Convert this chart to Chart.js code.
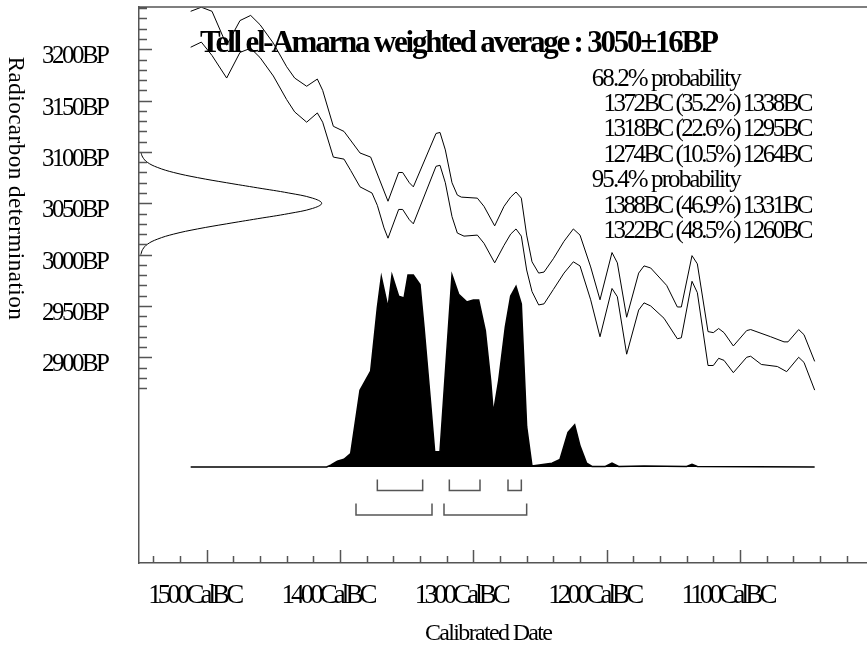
<!DOCTYPE html>
<html>
<head>
<meta charset="utf-8">
<title>Tell el-Amarna weighted average</title>
<script src="https://cdn.jsdelivr.net/npm/chart.js@4.4.0/dist/chart.umd.min.js"></script>
<style>
  html, body { margin: 0; padding: 0; background: #fff; }
  #wrap { width: 867px; height: 646px; }
</style>
</head>
<body>
<div id="wrap"><canvas id="chartCanvas" width="867" height="646"></canvas></div>
<script>
// calibration curve envelope (years are cal BC, values in BP)
const upperYears = [1512, 1504, 1496, 1485, 1475, 1467, 1460, 1450, 1440, 1434, 1425, 1417, 1413, 1405, 1397, 1385, 1377, 1364, 1356, 1353, 1348, 1345, 1328, 1325, 1321, 1316, 1312, 1309, 1297, 1292, 1284, 1277, 1272, 1268, 1264, 1260, 1256, 1251, 1247, 1240, 1232, 1225, 1220, 1212, 1205, 1196, 1192, 1185, 1176, 1172, 1167, 1155, 1147, 1144, 1136, 1132, 1124, 1120, 1116, 1112, 1105, 1095, 1092, 1077, 1067, 1064, 1056, 1052, 1044];
const upperBP = [3237, 3241, 3237, 3204, 3228, 3233, 3224, 3206, 3183, 3172, 3164, 3171, 3160, 3125, 3120, 3099, 3095, 3052, 3080, 3080, 3070, 3066, 3118, 3119, 3102, 3070, 3058, 3056, 3055, 3047, 3028, 3047, 3056, 3061, 3055, 3019, 2993, 2982, 2983, 2996, 3013, 3025, 3019, 2988, 2956, 3002, 2992, 2939, 2982, 2989, 2987, 2970, 2949, 2949, 2999, 2991, 2925, 2924, 2928, 2924, 2911, 2926, 2927, 2920, 2915, 2915, 2927, 2922, 2896];

const lowerYears = [1512, 1504, 1496, 1485, 1475, 1467, 1460, 1450, 1440, 1434, 1425, 1417, 1413, 1405, 1397, 1392, 1385, 1376, 1372, 1367, 1364, 1356, 1353, 1348, 1345, 1328, 1325, 1321, 1316, 1312, 1307, 1297, 1292, 1284, 1277, 1272, 1268, 1264, 1260, 1256, 1251, 1247, 1240, 1232, 1225, 1220, 1212, 1205, 1196, 1192, 1185, 1176, 1172, 1167, 1157, 1147, 1144, 1136, 1132, 1124, 1120, 1116, 1112, 1105, 1095, 1092, 1084, 1072, 1065, 1056, 1052, 1044];
const lowerBP = [3202, 3207, 3194, 3172, 3197, 3201, 3192, 3174, 3151, 3139, 3129, 3138, 3129, 3095, 3093, 3082, 3066, 3060, 3048, 3026, 3016, 3044, 3044, 3034, 3030, 3086, 3087, 3070, 3037, 3021, 3018, 3019, 3011, 2992, 3009, 3020, 3025, 3018, 2985, 2964, 2951, 2952, 2966, 2982, 2993, 2989, 2956, 2920, 2967, 2959, 2903, 2946, 2953, 2950, 2938, 2918, 2919, 2974, 2963, 2892, 2892, 2899, 2897, 2885, 2900, 2901, 2893, 2891, 2886, 2900, 2895, 2868];

// calibrated date probability (highest point = 1)
const probYears = [1512, 1410, 1407, 1402, 1397, 1392, 1385, 1377, 1372, 1369, 1364, 1361, 1356, 1352, 1349, 1345, 1340, 1337, 1332, 1329, 1325, 1321, 1316, 1311, 1305, 1300, 1296, 1291, 1287, 1285, 1281, 1276, 1272, 1268, 1264, 1260, 1256, 1241, 1235, 1229, 1224, 1220, 1215, 1211, 1201, 1196, 1191, 1172, 1140, 1136, 1132, 1044];
const probValues = [0, 0, 0.01, 0.03, 0.04, 0.07, 0.40, 0.50, 0.83, 0.99, 0.83, 1.0, 0.89, 0.88, 1.0, 1.0, 0.95, 0.73, 0.33, 0.08, 0.08, 0.49, 1.0, 0.9, 0.86, 0.87, 0.87, 0.71, 0.45, 0.28, 0.45, 0.73, 0.89, 0.94, 0.85, 0.21, 0.005, 0.02, 0.04, 0.18, 0.22, 0.11, 0.02, 0.003, 0.003, 0.02, 0.003, 0.005, 0.003, 0.014, 0.003, 0];

// radiocarbon measurement 3050±16BP drawn on the BP axis
const gaussBP = [3100, 3095, 3090, 3085, 3080, 3075, 3070, 3065, 3060, 3055, 3050, 3045, 3040, 3035, 3030, 3025, 3020, 3015, 3010, 3005, 3000];
const gaussDensity = [0.01, 0.02, 0.045, 0.1, 0.19, 0.32, 0.48, 0.65, 0.82, 0.95, 1.0, 0.95, 0.82, 0.65, 0.48, 0.32, 0.19, 0.1, 0.045, 0.02, 0.01];

// highest probability ranges
const range68From = [1372, 1318, 1274];
const range68To = [1338, 1295, 1264];
const range68Pct = ['35.2', '22.6', '10.5'];
const range95From = [1388, 1322];
const range95To = [1331, 1260];
const range95Pct = ['46.9', '48.5'];

// axis ticks
const xTickYears = [1500, 1400, 1300, 1200, 1100];
const yTickBP = [2900, 2950, 3000, 3050, 3100, 3150, 3200];

const titleText = 'Tell el-Amarna weighted average : 3050\u00b116BP';

const axisColor = '#555';
const serif = '"Liberation Serif", "Times New Roman", serif';
const hasSpacing = 'letterSpacing' in CanvasRenderingContext2D.prototype;

// draws text squeezed to a given ink width (OxCal prints very tight text)
function fitText(ctx, text, x, y, width, font, align) {
  ctx.font = font;
  ctx.textAlign = 'left';
  ctx.textBaseline = 'alphabetic';
  if (hasSpacing) ctx.letterSpacing = '0px';
  let natural = ctx.measureText(text).width;
  let start = x;
  if (align === 'right') start = x - width;
  if (align === 'center') start = x - width / 2;
  if (hasSpacing && text.length > 1) {
    ctx.letterSpacing = ((width - natural) / (text.length - 1)) + 'px';
    ctx.fillText(text, start, y);
    ctx.letterSpacing = '0px';
  } else {
    ctx.save();
    ctx.translate(start, y);
    ctx.scale(width / natural, 1);
    ctx.fillText(text, 0, 0);
    ctx.restore();
  }
}

function bracketPoints(from, to, tip, base) {
  let pts = [];
  from.forEach((f, i) => {
    pts.push({x: -f, y: tip}, {x: -f, y: base}, {x: -to[i], y: base}, {x: -to[i], y: tip}, {x: -to[i], y: null});
  });
  return pts;
}

const oxcalDecor = {
  id: 'oxcalDecor',
  afterDraw(chart) {
    const ctx = chart.ctx;
    const area = chart.chartArea;
    const xs = chart.scales.x;
    const ys = chart.scales.y;
    ctx.save();

    // frame top line and inward tick marks
    ctx.strokeStyle = axisColor;
    ctx.lineWidth = 1.5;
    ctx.beginPath();
    ctx.moveTo(area.left, area.top);
    ctx.lineTo(area.right, area.top);
    for (let yr = 1540; yr >= 1020; yr -= 20) {
      let px = Math.round(xs.getPixelForValue(-yr)) + 0.5;
      let len = yr % 100 === 0 ? 13 : 7;
      ctx.moveTo(px, area.bottom);
      ctx.lineTo(px, area.bottom - len);
    }
    for (let bp = 2870; bp <= 3240; bp += 10) {
      let py = Math.round(ys.getPixelForValue(bp)) + 0.5;
      let len = bp % 50 === 0 ? 13 : 8;
      ctx.moveTo(area.left, py);
      ctx.lineTo(area.left + len, py);
    }
    ctx.stroke();

    ctx.fillStyle = '#000';
    // tick labels
    xTickYears.forEach(yr => {
      let px = xs.getPixelForValue(-yr);
      fitText(ctx, yr + 'CalBC', px - 10.5, area.bottom + 39.7, 96, '27px ' + serif, 'center');
    });
    yTickBP.forEach(bp => {
      let py = ys.getPixelForValue(bp);
      fitText(ctx, bp + 'BP', 110, py + 14, 68, '25px ' + serif, 'right');
    });

    // axis titles
    fitText(ctx, 'Calibrated Date', 425, 640, 128, '24px ' + serif, 'left');
    ctx.save();
    ctx.translate(8.5, 56.7);
    ctx.rotate(Math.PI / 2);
    fitText(ctx, 'Radiocarbon determination', 0, 0, 263, '23px ' + serif, 'left');
    ctx.restore();

    // title and probability ranges
    fitText(ctx, titleText, 200, 52, 519, 'bold 31px ' + serif, 'left');
    let lineY = 85.5;
    const step = 25.4;
    const rangeFont = '25px ' + serif;
    fitText(ctx, '68.2% probability', 591.7, lineY, 150, rangeFont, 'left');
    range68From.forEach((f, i) => {
      lineY += step;
      fitText(ctx, f + 'BC (' + range68Pct[i] + '%) ' + range68To[i] + 'BC', 603.5, lineY, 210, rangeFont, 'left');
    });
    lineY += step;
    fitText(ctx, '95.4% probability', 591.7, lineY, 150, rangeFont, 'left');
    range95From.forEach((f, i) => {
      lineY += step;
      fitText(ctx, f + 'BC (' + range95Pct[i] + '%) ' + range95To[i] + 'BC', 603.5, lineY, 210, rangeFont, 'left');
    });
    ctx.restore();
  }
};

const ctx = document.getElementById('chartCanvas').getContext('2d');
new Chart(ctx, {
  type: 'line',
  data: {
    datasets: [
      {
        label: 'probability',
        data: probYears.map((yr, i) => ({x: -yr, y: probValues[i]})),
        xAxisID: 'x', yAxisID: 'y2',
        borderColor: '#000', backgroundColor: '#000', borderWidth: 1.5,
        fill: {value: 0}, pointRadius: 0, tension: 0
      },
      {
        label: 'upper',
        data: upperYears.map((yr, i) => ({x: -yr, y: upperBP[i]})),
        xAxisID: 'x', yAxisID: 'y',
        borderColor: '#000', borderWidth: 1, pointRadius: 0, tension: 0, fill: false
      },
      {
        label: 'lower',
        data: lowerYears.map((yr, i) => ({x: -yr, y: lowerBP[i]})),
        xAxisID: 'x', yAxisID: 'y',
        borderColor: '#000', borderWidth: 1, pointRadius: 0, tension: 0, fill: false
      },
      {
        label: 'measurement',
        data: gaussBP.map((bp, i) => ({x: gaussDensity[i], y: bp})),
        xAxisID: 'x2', yAxisID: 'y',
        borderColor: '#000', borderWidth: 1, pointRadius: 0, tension: 0.4, fill: false
      },
      {
        label: '68.2%',
        data: bracketPoints(range68From, range68To, -0.065, -0.122),
        xAxisID: 'x', yAxisID: 'y2',
        borderColor: axisColor, borderWidth: 1.5, pointRadius: 0, tension: 0, fill: false, spanGaps: false
      },
      {
        label: '95.4%',
        data: bracketPoints(range95From, range95To, -0.19, -0.25),
        xAxisID: 'x', yAxisID: 'y2',
        borderColor: axisColor, borderWidth: 1.5, pointRadius: 0, tension: 0, fill: false, spanGaps: false
      }
    ]
  },
  options: {
    responsive: false,
    animation: false,
    devicePixelRatio: 1,
    events: [],
    layout: { padding: { top: 7, left: 0, right: 0, bottom: 0 } },
    plugins: { legend: { display: false }, tooltip: { enabled: false } },
    scales: {
      x: {
        type: 'linear', position: 'bottom', min: -1550.75, max: -1004.75,
        grid: { display: false },
        border: { display: true, color: axisColor, width: 1.5 },
        ticks: { display: false },
        afterFit: s => { s.height = 83; }
      },
      y: {
        type: 'linear', position: 'left', min: 2699.6, max: 3241.2,
        grid: { display: false },
        border: { display: true, color: axisColor, width: 1.5 },
        ticks: { display: false },
        afterFit: s => { s.width = 139; }
      },
      y2: { type: 'linear', display: false, min: -0.5, max: 2.3958 },
      x2: { type: 'linear', display: false, position: 'top', min: 0, max: 3.985 }
    }
  },
  plugins: [oxcalDecor]
});
</script>
</body>
</html>
